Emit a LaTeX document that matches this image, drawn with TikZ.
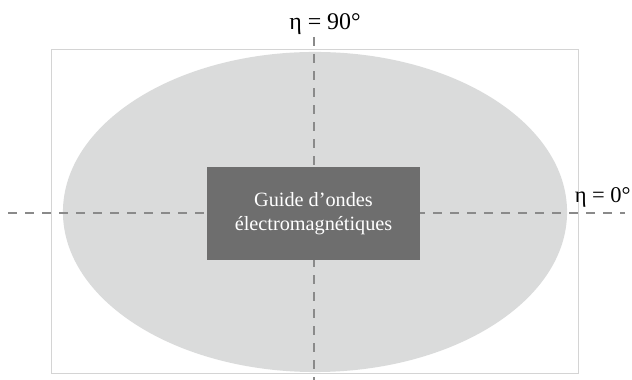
\documentclass[tikz,border=0pt]{standalone}
\usepackage{fontspec}
\setmainfont{Liberation Serif}
\usepackage{xcolor}
\usetikzlibrary{positioning}
\definecolor{plane}{HTML}{DADBDB}
\definecolor{guidefill}{HTML}{6E6E6E}
\definecolor{axisgray}{HTML}{8A8A8A}
\definecolor{framegray}{HTML}{D4D4D4}

\begin{document}
\begin{tikzpicture}[
      x=0.025cm, y=0.025cm,
      guide/.style={fill=guidefill, text=white, align=center,
                    minimum width=5.325cm, minimum height=2.325cm,
                    inner sep=0pt, font=\fontsize{14.4}{16.6}\selectfont},
      angle/.style={font=\fontsize{17}{20}\selectfont, inner sep=0pt},
      axis/.style={draw=axisgray, line width=0.85pt,
                   dash pattern=on 0.225cm off 0.2cm}
  ]
    \useasboundingbox (0,0) rectangle (632,380);

    % --- frame and cross-section ---
    \draw[framegray, line width=0.6pt] (51,7) rectangle (578,331);
    \fill[plane] (315,168) ellipse [x radius=6.3cm, y radius=4cm];

    % --- axes ---
    \coordinate (hleft) at (8,167);
    \coordinate (hright) at (625,167);
    \coordinate (vtop) at (314,343);
    \coordinate (vbot) at (314,0);
    \draw[axis] (hleft) -- (hright);
    \draw[axis] (vtop) -- (vbot);

    % --- guide ---
    \node[guide] (wg) at (313.5,166.5) {Guide d’ondes\\électromagnétiques};

    % --- angle labels ---
    \node[angle, anchor=base] (eta90) at (325,350) {η = 90°};
    \node[angle, anchor=base east, font=\fontsize{16}{19}\selectfont]
          (eta0) at (631,177) {η = 0°};

\end{tikzpicture}
\end{document}
